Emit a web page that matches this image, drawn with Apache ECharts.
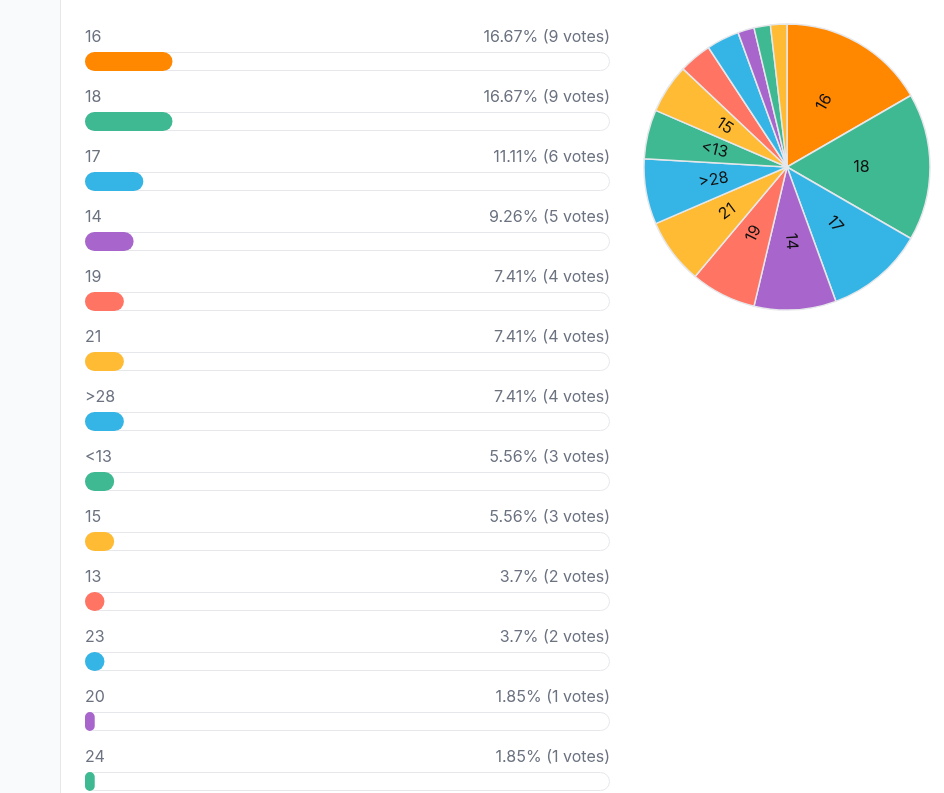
<!DOCTYPE html>
<html lang="en">
<head>
<meta charset="UTF-8">
<title>Poll results</title>
<style>
        html, body { margin: 0; padding: 0; background: #fff; overflow: hidden; }
        .side { position: absolute; left: 0; top: 0; width: 60px; height: 900px; background: #f9fafb; border-right: 1px solid #e5e7eb; }
        #chart { position: absolute; left: 0; top: 0; width: 944px; height: 880px; }
</style>
</head>
<body>
<div class="side"></div>
<div id="chart"></div>
<script src="https://cdn.jsdelivr.net/npm/echarts@6/dist/echarts.min.js"></script>
<script>
        // answers in the order shown (last one is below the fold)
        var names = ['16', '18', '17', '14', '19', '21', '>28', '<13', '15', '13', '23', '20', '24', '22'];
        var votes = [9, 9, 6, 5, 4, 4, 4, 3, 3, 2, 2, 1, 1, 1];
        var colors = ['#FF8800', '#3FB991', '#35B5E5', '#A866CC', '#FF7462', '#FFBB33', '#35B5E5',
                '#3FB991', '#FFBB33', '#FF7462', '#35B5E5', '#A866CC', '#3FB991', '#FFBB33'];

        var total = 0;
        for (var i = 0; i < votes.length; i++) total += votes[i];

        var percents = [];
        var rightTexts = [];
        var trackVals = [];
        for (var i = 0; i < votes.length; i++) {
                var p = votes[i] / total * 100;
                percents.push({ value: p, itemStyle: { color: colors[i] } });
                rightTexts.push(parseFloat(p.toFixed(2)) + '% (' + votes[i] + ' votes)');
                trackVals.push(100);
        }

        var pieData = [];
        for (var i = 0; i < names.length; i++) {
                pieData.push({ name: names[i], value: votes[i], itemStyle: { color: colors[i] } });
        }

        var font = 'Inter, "Noto Sans", sans-serif';
        var chart = echarts.init(document.getElementById('chart'));

        var option = {
                animation: false,
                grid: { left: 85, width: 525, top: 31.5, height: 840 },
                xAxis: { type: 'value', min: 0, max: 100, show: false },
                yAxis: { type: 'category', data: names, inverse: true, show: false },
                series: [
                        {
                                name: 'track',
                                type: 'bar',
                                data: trackVals,
                                barWidth: 19,
                                barGap: '-100%',
                                silent: true,
                                itemStyle: { color: '#fff', borderColor: '#e5e7eb', borderWidth: 1, borderRadius: 10 },
                                label: {
                                        show: true,
                                        position: [0, -15],
                                        verticalAlign: 'middle',
                                        align: 'left',
                                        color: '#6b7280',
                                        fontSize: 16,
                                        fontFamily: font,
                                        formatter: function (p) { return names[p.dataIndex]; }
                                }
                        },
                        {
                                name: 'text',
                                type: 'bar',
                                data: trackVals,
                                barWidth: 19,
                                barGap: '-100%',
                                silent: true,
                                itemStyle: { color: 'rgba(0,0,0,0)' },
                                label: {
                                        show: true,
                                        position: ['100%', -15],
                                        verticalAlign: 'middle',
                                        align: 'right',
                                        color: '#6b7280',
                                        fontSize: 16,
                                        fontFamily: font,
                                        formatter: function (p) { return rightTexts[p.dataIndex]; }
                                }
                        },
                        {
                                name: 'share',
                                type: 'bar',
                                data: percents,
                                barWidth: 19,
                                barGap: '-100%',
                                silent: true,
                                itemStyle: { borderRadius: 10 }
                        },
                        {
                                name: 'pie',
                                type: 'pie',
                                center: [787, 167],
                                radius: [0, 143],
                                startAngle: 90,
                                clockwise: true,
                                silent: true,
                                minShowLabelAngle: 15,
                                data: pieData,
                                itemStyle: { borderColor: '#e6e7eb', borderWidth: 1.5 },
                                label: {
                                        show: true,
                                        position: 'inside',
                                        rotate: 'radial',
                                        color: '#111',
                                        fontSize: 16,
                                        fontFamily: font,
                                        formatter: '{b}'
                                },
                                labelLine: { show: false }
                        }
                ]
        };

        chart.setOption(option);
</script>
</body>
</html>
